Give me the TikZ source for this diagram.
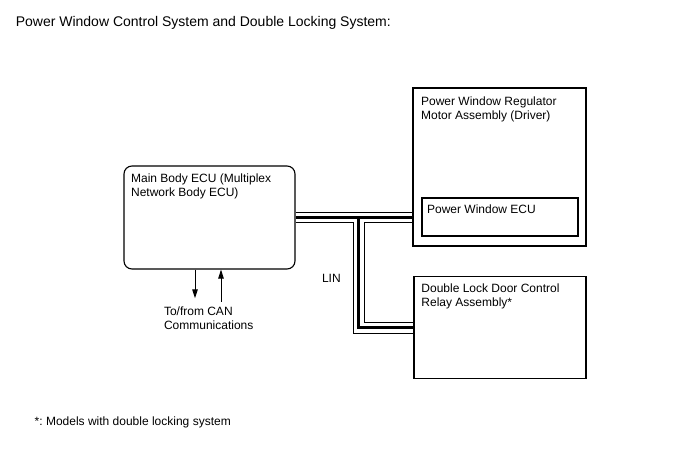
\documentclass[tikz,border=0pt]{standalone}
\usepackage{fontspec}
\setmainfont{Liberation Sans}
\frenchspacing
\usetikzlibrary{arrows.meta, positioning, calc}

\begin{document}
\begin{tikzpicture}[x=1pt, y=-1pt, >={Triangle[length=9pt, width=5.5pt]},
    box/.style={rectangle, draw, line width=1.1pt, inner sep=0pt},
    txt/.style={inner sep=0pt, align=left, font=\fontsize{12}{14}\selectfont},
    wire/.style={line width=1pt},
    core/.style={line width=2.6pt}]
  \useasboundingbox[fill=white] (0,0) rectangle (688,463);
  \node[txt, anchor=base west, font=\fontsize{14}{16}\selectfont] (title) at (15.6,27) {Power Window Control System and Double Locking System:};
  \node[box, rounded corners=8pt, minimum width=171pt, minimum height=103pt] (ecu) at (209.5,217.5) {};
  \node[box, minimum width=173pt, minimum height=158pt] (pw) at (499.5,167) {};
  \node[box, minimum width=156pt, minimum height=38pt] (pwecu) at (500,217) {};
  \node[box, minimum width=172pt, minimum height=102pt] (dl) at (500,327.5) {};
  \node[txt, below right=8.5pt and 7.5pt of ecu.north west] (ecutxt) {Main Body ECU (Multiplex\\Network Body ECU)};
  \node[txt, below right=9.5pt and 8.5pt of pw.north west] (pwtxt) {Power Window Regulator\\Motor Assembly (Driver)};
  \node[txt, below right=7pt and 5.5pt of pwecu.north west] (pwecutxt) {Power Window ECU};
  \node[txt, below right=8pt and 7.8pt of dl.north west] (dltxt) {Double Lock Door Control\\Relay Assembly*};
  % LIN cable
  \coordinate[right=63pt of ecu.east] (tee);
  \draw[wire] ($(ecu.east)+(0,-5)$) -- ($(pw.west |- ecu.east)+(0,-5)$);
  \draw[wire] ($(ecu.east)+(0,5)$) -| ($(tee |- dl.west)+(-5.5,5.5)$) -- ($(dl.west)+(0,5.5)$);
  \draw[wire] ($(pw.west |- ecu.east)+(0,5)$) -| ($(tee |- dl.west)+(5.5,-5.5)$) -- ($(dl.west)+(0,-5.5)$);
  \draw[core] (ecu.east) -- (pw.west |- ecu.east);
  \draw[core] (tee) |- (dl.west);
  \node[txt, anchor=base west] (lin) at (321.8,282.5) {LIN};
  % CAN
  \coordinate (canout) at (195,298.3);
  \coordinate (canin) at (221,301.7);
  \draw[wire, ->] (ecu.south -| canout) -- (canout);
  \draw[wire, ->] (canin) -- (ecu.south -| canin);
  \node[txt, anchor=north west] (can) at (163.8,306.3) {To/from CAN\\Communications};
  \node[txt, anchor=base west] (note) at (34.5,425) {*: Models with double locking system};
\end{tikzpicture}
\end{document}
